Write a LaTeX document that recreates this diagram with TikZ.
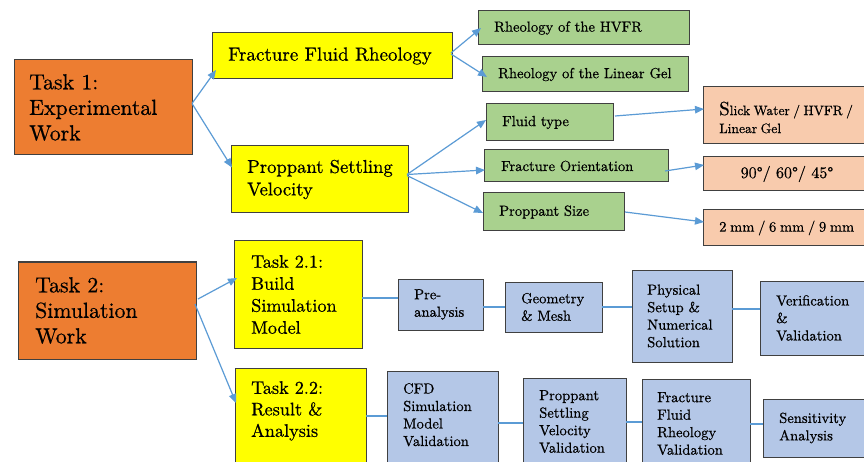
\documentclass[tikz,border=0pt]{standalone}
\usepackage{fontspec}
\setmainfont{lmroman10-regular.otf}[FakeBold=0.6]
\usetikzlibrary{arrows.meta,calc}
\definecolor{taskorange}{HTML}{ED7D31}
\definecolor{subyellow}{HTML}{FFFF00}
\definecolor{leafgreen}{HTML}{A9D18E}
\definecolor{leafpeach}{HTML}{F8CBAD}
\definecolor{stepblue}{HTML}{B4C7E7}
\definecolor{arrowblue}{HTML}{5B9BD5}
\definecolor{boxline}{HTML}{404040}
\newcommand\tightspaces{\spaceskip=0.25em\relax}
\begin{document}
\begin{tikzpicture}[x=1pt,y=-1pt,
  box/.style={draw=boxline, line width=1pt, anchor=north west, inner sep=0pt, outer sep=0pt},
  lbl/.style={anchor=west, align=left, inner sep=0pt, text=black},
  lbltop/.style={anchor=north west, align=left, inner sep=0pt, text=black},
  arr/.style={draw=arrowblue, line width=1.2pt, -{Triangle[length=9pt,width=7.5pt]}},
  link/.style={draw=arrowblue, line width=2.5pt},
  bigfont/.style={font=\fontsize{21.8}{25.5}\selectfont},
  midfont/.style={font=\fontsize{19}{22.5}\selectfont},
  subfont/.style={font=\fontsize{18.2}{22}\selectfont},
  smallfont/.style={font=\fontsize{14.6}{17.5}\selectfont},
]
\useasboundingbox (0,0) rectangle (864,462);
\clip (0,0) rectangle (864,462);
\fill[white] (0,0) rectangle (864,462);

% ---------- boxes ----------
\node[box, fill=taskorange, minimum width=178pt, minimum height=95pt] (t1) at (14,60) {};
\node[box, fill=subyellow, minimum width=240pt, minimum height=46pt] (ffr) at (212,33) {};
\node[box, fill=subyellow, minimum width=177pt, minimum height=67pt] (psv) at (231,146) {};
\node[box, fill=leafgreen, minimum width=211pt, minimum height=34pt] (hvfr) at (478,11) {};
\node[box, fill=leafgreen, minimum width=206pt, minimum height=35pt] (lingel) at (482,57) {};
\node[box, fill=leafgreen, minimum width=127pt, minimum height=37pt] (fluid) at (486,104) {};
\node[box, fill=leafgreen, minimum width=184pt, minimum height=32pt] (fo) at (484,150) {};
\node[box, fill=leafgreen, minimum width=141pt, minimum height=38pt] (ps) at (483,193) {};
\node[box, fill=leafpeach, minimum width=170pt, minimum height=57pt] (slick) at (703,87) {};
\node[box, fill=leafpeach, minimum width=170pt, minimum height=34pt] (deg) at (703,157) {};
\node[box, fill=leafpeach, minimum width=170pt, minimum height=36pt] (mm) at (703,210) {};

\node[box, fill=taskorange, minimum width=178pt, minimum height=97pt] (t2) at (18,262) {};
\node[box, fill=subyellow, minimum width=128pt, minimum height=107pt] (t21) at (234,241) {};
\node[box, fill=subyellow, minimum width=131pt, minimum height=110pt] (t22) at (235,368) {};
\node[box, fill=stepblue, minimum width=85pt, minimum height=51pt] (pre) at (398,279) {};
\node[box, fill=stepblue, minimum width=97pt, minimum height=50pt] (geo) at (505,282) {};
\node[box, fill=stepblue, minimum width=100pt, minimum height=92pt] (phys) at (632,270) {};
\node[box, fill=stepblue, minimum width=112pt, minimum height=74pt] (ver) at (760,281) {};
\node[box, fill=stepblue, minimum width=111pt, minimum height=110pt] (cfd) at (387,371) {};
\node[box, fill=stepblue, minimum width=103pt, minimum height=100pt] (psvv) at (523,378) {};
\node[box, fill=stepblue, minimum width=108pt, minimum height=100pt] (ffrv) at (642,379) {};
\node[box, fill=stepblue, minimum width=109pt, minimum height=58pt] (sens) at (763,399) {};

% ---------- texts ----------
\node[lbl, bigfont] (t1x) at ($(t1.west)+(15,0)$) {Task 1:\\Experimental\\Work};
\node[lbl, midfont] (ffrx) at ($(ffr.west)+(16,0)$) {Fracture Fluid Rheology};
\node[lbl, font=\fontsize{18.6}{22.5}\selectfont] (psvx) at ($(psv.west)+(16,0)$) {Proppant Settling\\Velocity};
\node[lbl, smallfont] (hvfrx) at ($(hvfr.west)+(16,0)$) {Rheology of the HVFR};
\node[lbl, smallfont] (lingelx) at ($(lingel.west)+(16,0)$) {Rheology of the Linear Gel};
\node[lbl, smallfont] (fluidx) at ($(fluid.west)+(16,0)$) {Fluid type};
\node[lbl, smallfont] (fox) at ($(fo.west)+(17,0)$) {Fracture Orientation};
\node[lbl, smallfont] (psx) at ($(ps.west)+(16,0)$) {Proppant Size};
\node[lbl, font=\fontsize{13.6}{18}\selectfont\tightspaces] (slickx) at ($(slick.west)+(16,2)$) {{\fontsize{19}{18}\selectfont S}lick Water / HVFR /\\Linear Gel};
\node[anchor=center, inner sep=0pt, font=\fontsize{16}{20}\selectfont] (degx) at ($(deg.center)+(-1,0)$) {90°/ 60°/ 45°};
\node[lbl, font=\fontsize{14.6}{18}\selectfont\tightspaces] (mmx) at ($(mm.west)+(16,0)$) {2 mm / 6 mm / 9 mm};

\node[lbl, bigfont] (t2x) at ($(t2.west)+(17,0)$) {Task 2:\\Simulation\\Work};
\node[lbl, subfont] (t21x) at ($(t21.west)+(17,0)$) {Task 2.1:\\Build\\Simulation\\Model};
\node[lbltop, font=\fontsize{18.2}{21.5}\selectfont] (t22x) at ($(t22.north west)+(16,13)$) {Task 2.2:\\Result \&\\Analysis};
\node[lbl, smallfont] (prex) at ($(pre.west)+(16,0)$) {Pre-\\analysis};
\node[lbl, smallfont] (geox) at ($(geo.west)+(16,0)$) {Geometry\\\& Mesh};
\node[lbl, smallfont] (physx) at ($(phys.west)+(15,0)$) {Physical\\Setup \&\\Numerical\\Solution};
\node[lbl, smallfont] (verx) at ($(ver.west)+(16,0)$) {Verification\\\&\\Validation};
\node[lbltop, smallfont] (cfdx) at ($(cfd.north west)+(16,12)$) {CFD\\Simulation\\Model\\Validation};
\node[lbltop, smallfont] (psvvx) at ($(psvv.north west)+(16,12)$) {Proppant\\Settling\\Velocity\\Validation};
\node[lbltop, smallfont] (ffrvx) at ($(ffrv.north west)+(15,13)$) {Fracture\\Fluid\\Rheology\\Validation};
\node[lbl, smallfont] (sensx) at ($(sens.west)+(16,0)$) {Sensitivity\\Analysis};

% ---------- arrows ----------
\draw[arr] ($(t1.east)+(0,-4)$) -- ($(ffr.south west)+(4,-9)$);
\draw[arr] ($(t1.east)+(0,-4)$) -- ($(psv.west)+(1,-12)$);
\draw[arr] ($(ffr.east)+(-1,-3)$) -- ($(hvfr.west)+(3,0)$);
\draw[arr] ($(ffr.east)+(-1,-2)$) -- ($(lingel.west)+(5,2.5)$);
\draw[arr] ($(psv.east)+(-1,-5)$) -- ($(fluid.west)+(0,-2.5)$);
\draw[arr] ($(psv.east)+(-1,-5)$) -- ($(fo.west)+(1,4)$);
\draw[arr] ($(psv.east)+(-1,-4)$) -- ($(ps.west)+(0,1)$);
\draw[arr] ($(fluid.east)+(2,-6.5)$) -- ($(slick.west)+(1,-6.5)$);
\draw[arr] ($(fo.east)+(-3,5)$) -- ($(deg.west)+(1,-9)$);
\draw[arr] ($(ps.east)+(1,0)$) -- ($(mm.west)+(1,-6)$);
\draw[arr] ($(t2.east)+(2,-11.5)$) -- ($(t21.west)+(3,-16.5)$);
\draw[arr] ($(t2.east)+(-1,-6.5)$) -- ($(t22.north west)+(1,35)$);

% ---------- links ----------
\draw[link] ($(t21.east)+(0,3.5)$) -- ($(pre.west)+(0,-6.5)$);
\draw[link] ($(pre.east)+(0,2.5)$) -- (geo.west);
\draw[link] (geo.east) -- ($(phys.west)+(0,-9)$);
\draw[link] ($(phys.east)+(0,-7)$) -- ($(ver.west)+(0,-9)$);
\draw[link] ($(t22.north east)+(0,48)$) -- ($(cfd.north west)+(0,45)$);
\draw[link] ($(cfd.north east)+(0,52)$) -- ($(psvv.north west)+(0,45)$);
\draw[link] ($(psvv.north east)+(0,44)$) -- ($(ffrv.north west)+(0,43)$);
\draw[link] ($(ffrv.north east)+(0,45)$) -- ($(sens.west)+(0,-4)$);
\end{tikzpicture}
\end{document}
